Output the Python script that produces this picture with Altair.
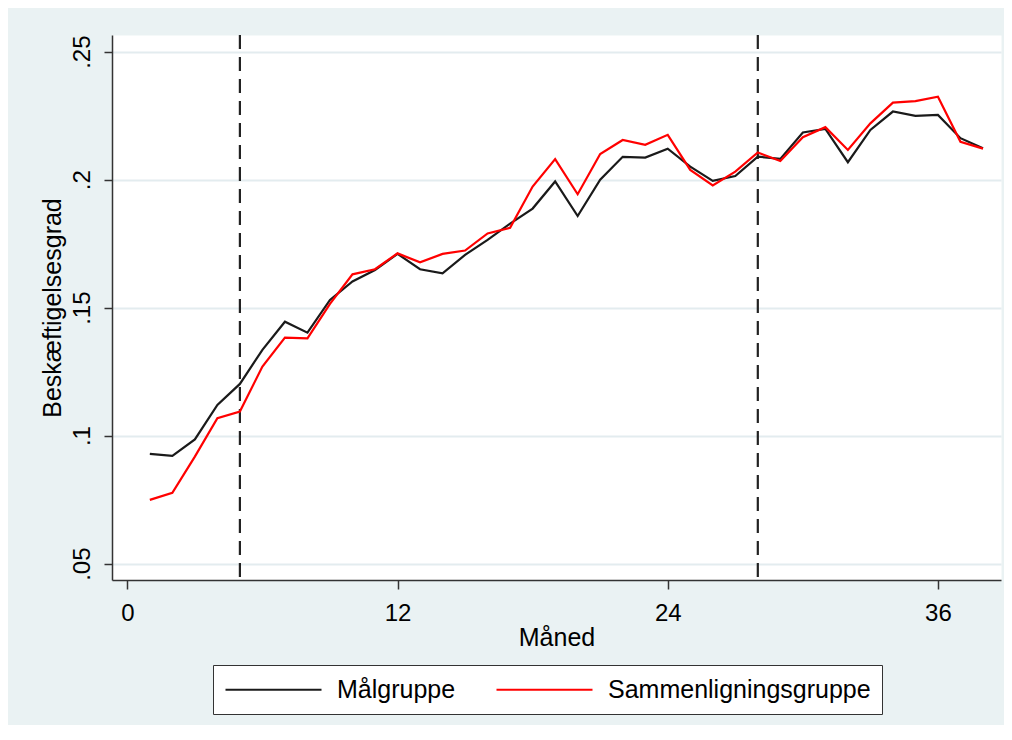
import altair as alt
import pandas as pd

# ---- data ----
months = [1, 2, 3, 4, 5, 6, 7, 8, 9, 10, 11, 12, 13, 14, 15, 16, 17, 18, 19,
          20, 21, 22, 23, 24, 25, 26, 27, 28, 29, 30, 31, 32, 33, 34, 35, 36, 37, 38]
malgruppe = [0.0929, 0.0921, 0.0985, 0.1120, 0.1202, 0.1335, 0.1445, 0.1402, 0.1530,
             0.1602, 0.1647, 0.1710, 0.1650, 0.1634, 0.1706, 0.1765, 0.1828, 0.1887,
             0.1993, 0.1858, 0.2000, 0.2089, 0.2086, 0.2121, 0.2051, 0.1995, 0.2014,
             0.2090, 0.2081, 0.2184, 0.2198, 0.2068, 0.2194, 0.2266, 0.2249, 0.2253,
             0.2162, 0.2123]
sammenligning = [0.0749, 0.0777, 0.0918, 0.1068, 0.1094, 0.1270, 0.1383, 0.1380, 0.1515,
                 0.1630, 0.1650, 0.1712, 0.1677, 0.1710, 0.1723, 0.1790, 0.1812, 0.1973,
                 0.2080, 0.1943, 0.2100, 0.2155, 0.2136, 0.2175, 0.2038, 0.1977, 0.2031,
                 0.2106, 0.2073, 0.2166, 0.2205, 0.2116, 0.2220, 0.2301, 0.2307, 0.2324,
                 0.2148, 0.2121]
groups = ["Målgruppe", "Sammenligningsgruppe"]
group_colors = ["#1a1a1a", "#ff0000"]
vline_months = [5, 28]
x_ticks = [0, 12, 24, 36]
y_ticks = [0.05, 0.10, 0.15, 0.20, 0.25]

df = pd.DataFrame({
    "month": months * 2,
    "value": malgruppe + sammenligning,
    "group": [groups[0]] * len(months) + [groups[1]] * len(months),
})
vdf = pd.DataFrame({"month": vline_months})

FONT = "Liberation Sans"
AXIS_COL = "#333333"

x_scale = alt.Scale(domain=[-0.68, 38.8], nice=False, zero=False)
x_axis = alt.Axis(values=x_ticks, format="d", title="Måned", grid=False,
                  tickSize=9, tickWidth=1.5, tickColor=AXIS_COL,
                  domainColor=AXIS_COL, domainWidth=1.5,
                  labelPadding=12, labelFontSize=24, labelColor="black",
                  labelFlush=False, labelOverlap=False,
                  titlePadding=0, titleFontSize=25, titleFontWeight="normal",
                  titleColor="black")

y_axis = alt.Axis(values=y_ticks,
                  labelExpr="substring(format(datum.value, '.2~f'), 1)",
                  labelAngle=270, labelAlign="center", labelBaseline="bottom",
                  tickSize=8, tickWidth=1.5, tickColor=AXIS_COL,
                  domainColor=AXIS_COL, domainWidth=1.5,
                  labelPadding=10, labelFontSize=24, labelColor="black",
                  labelFlush=False, labelOverlap=False,
                  grid=True, gridColor="#E3ECEF", gridWidth=2,
                  title="Beskæftigelsesgrad", titlePadding=5, titleFontSize=25,
                  titleFontWeight="normal", titleColor="black")

rules = alt.Chart(vdf).mark_rule(
    strokeDash=[14, 8], strokeWidth=2.2, color="#222222"
).encode(
    x=alt.X("month:Q", scale=x_scale, axis=x_axis),
)

lines = alt.Chart(df).mark_line(strokeWidth=2.2).encode(
    x=alt.X("month:Q", scale=x_scale, axis=x_axis),
    y=alt.Y("value:Q", scale=alt.Scale(domain=[0.0436, 0.2565], nice=False, zero=False),
            axis=y_axis),
    color=alt.Color("group:N",
                    scale=alt.Scale(domain=groups, range=group_colors),
                    sort=groups,
                    legend=alt.Legend(orient="none", legendX=101, legendY=630,
                                      direction="horizontal", title=None,
                                      symbolType="M-4,0H4", symbolSize=576,
                                      symbolOffset=36,
                                      symbolStrokeWidth=2.2, labelFontSize=25,
                                      labelColor="black", labelOffset=50,
                                      labelLimit=400, columnPadding=36,
                                      padding=11, fillColor="white",
                                      strokeColor=AXIS_COL)),
)

chart = alt.layer(rules, lines).properties(
    width=889, height=545,
    autosize=alt.AutoSizeParams(type="none"),
    padding={"left": 104, "top": 27, "right": 3, "bottom": 145},
    background="#EAF2F3",
).configure(font=FONT).configure_view(fill="white", stroke="transparent")

chart.save("out.html", embed_options={"renderer": "svg", "actions": False})
